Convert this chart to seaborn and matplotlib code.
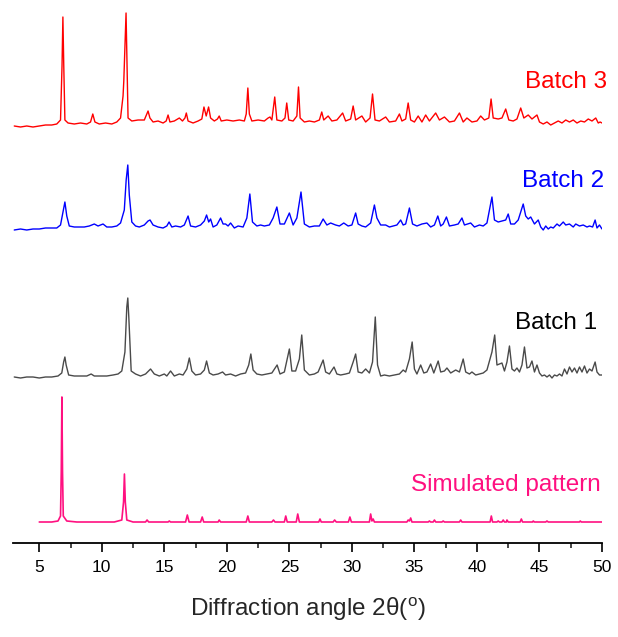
import matplotlib
matplotlib.use("Agg")
import matplotlib.pyplot as plt
from matplotlib.ticker import MultipleLocator
import pandas as pd
import seaborn as sns


# Powder XRD traces. Intensities are arbitrary units
# measured from each trace's own starting baseline.

batch3_theta = [3.0, 3.5, 4.0, 4.5, 5.0, 5.5, 6.0, 6.4, 6.7, 6.82, 6.89, 6.96, 7.05, 7.3, 7.8,
                8.3, 8.8, 9.1, 9.28, 9.45, 9.8, 10.3, 10.8, 11.2, 11.5, 11.7, 11.76, 11.85, 11.94,
                12.02, 12.1, 12.4, 12.9, 13.4, 13.6, 13.7, 13.85, 14.1, 14.5, 14.9, 15.15, 15.3,
                15.45, 15.8, 16.2, 16.45, 16.65, 16.76, 16.9, 17.3, 17.7, 18.0, 18.17, 18.35,
                18.54, 18.7, 19.0, 19.25, 19.39, 19.55, 20.0, 20.5, 21.0, 21.4, 21.55, 21.68,
                21.8, 22.0, 22.5, 23.0, 23.3, 23.45, 23.6, 23.83, 24.0, 24.4, 24.65, 24.79, 24.95,
                25.3, 25.6, 25.73, 25.86, 26.2, 26.6, 27.0, 27.4, 27.59, 27.75, 28.1, 28.4, 28.8,
                29.26, 29.5, 29.9, 30.1, 30.3, 30.8, 31.1, 31.45, 31.65, 31.85, 32.2, 32.7, 33.0,
                33.5, 33.8, 34.0, 34.3, 34.5, 34.7, 35.0, 35.3, 35.6, 35.9, 36.2, 36.7, 37.0,
                37.4, 37.8, 38.2, 38.6, 38.9, 39.2, 39.6, 40.0, 40.3, 40.6, 40.95, 41.13, 41.3,
                41.7, 42.0, 42.3, 42.55, 42.9, 43.2, 43.5, 43.75, 44.1, 44.4, 44.8, 45.0, 45.3,
                45.6, 45.9, 46.2, 46.5, 46.8, 47.1, 47.4, 47.7, 48.0, 48.3, 48.6, 48.9, 49.2,
                49.5, 49.7, 49.85, 50.0]
batch3_int = [0, -1, 0, -1, 0, 1, 1, 2, 6, 60, 109, 60, 6, 3, 2,
              3, 2, 4, 12, 4, 2, 3, 2, 4, 8, 30, 45, 80, 113,
              60, 8, 5, 6, 6, 12, 15, 8, 4, 5, 3, 5, 11,
              4, 5, 8, 5, 8, 13, 5, 3, 5, 7, 19, 10,
              19, 8, 5, 7, 10, 5, 6, 5, 6, 5, 12, 38,
              12, 5, 6, 5, 8, 9, 6, 29, 6, 5, 8, 23, 6,
              5, 10, 39, 8, 4, 5, 4, 6, 14, 6, 10, 5, 6,
              13, 5, 7, 20, 6, 10, 4, 8, 32, 6, 5, 9, 4,
              5, 12, 5, 7, 23, 6, 4, 10, 4, 11, 5, 13, 6,
              9, 4, 5, 13, 4, 8, 4, 5, 10, 6, 8, 27, 8,
              7, 8, 17, 6, 5, 7, 18, 8, 11, 7, 11, 4, 2,
              4, 1, 3, 5, 3, 6, 4, 6, 3, 5, 4, 7, 5,
              8, 3, 4, 3]

batch2_theta = [3.0, 3.5, 4.0, 4.5, 5.0, 5.5, 6.0, 6.4, 6.7, 6.9, 7.05, 7.2, 7.4, 7.8, 8.2,
                8.6, 9.0, 9.4, 9.7, 10.1, 10.4, 10.8, 11.2, 11.5, 11.8, 11.95, 12.08, 12.2, 12.4,
                12.7, 13.0, 13.4, 13.7, 13.86, 14.1, 14.5, 14.9, 15.2, 15.38, 15.6, 15.9, 16.3,
                16.6, 16.9, 17.1, 17.5, 17.9, 18.2, 18.38, 18.55, 18.7, 18.9, 19.2, 19.5, 19.7,
                19.9, 20.1, 20.3, 20.6, 20.9, 21.3, 21.6, 21.84, 22.05, 22.4, 22.7, 23.0, 23.4,
                23.7, 24.0, 24.25, 24.6, 25.0, 25.3, 25.6, 25.93, 26.2, 26.6, 27.0, 27.4, 27.7,
                28.0, 28.3, 28.7, 29.0, 29.35, 29.7, 30.0, 30.3, 30.5, 30.8, 31.1, 31.5, 31.8,
                32.0, 32.3, 32.7, 33.0, 33.3, 33.6, 33.9, 34.1, 34.3, 34.6, 34.85, 35.2, 35.6,
                36.0, 36.3, 36.6, 36.87, 37.1, 37.3, 37.56, 37.8, 38.2, 38.5, 38.8, 39.0, 39.5,
                39.8, 40.2, 40.5, 40.8, 41.0, 41.2, 41.4, 41.7, 42.0, 42.3, 42.5, 42.7, 43.0,
                43.3, 43.7, 43.9, 44.1, 44.3, 44.6, 44.9, 45.1, 45.3, 45.5, 45.7, 45.9, 46.1,
                46.4, 46.6, 46.9, 47.1, 47.4, 47.7, 47.9, 48.2, 48.5, 48.8, 49.0, 49.25, 49.45,
                49.6, 49.8, 50.0]
batch2_int = [0, 1, 0, 1, 1, 2, 2, 2, 5, 18, 28, 14, 4, 3, 3,
              3, 4, 6, 4, 6, 3, 3, 4, 7, 20, 50, 65, 35, 8,
              4, 3, 5, 9, 10, 5, 3, 2, 4, 8, 3, 4, 3,
              5, 14, 4, 3, 5, 9, 15, 8, 11, 3, 5, 12, 6,
              6, 4, 7, 2, 4, 3, 12, 36, 8, 4, 5, 4, 5,
              12, 23, 6, 6, 17, 5, 12, 38, 6, 3, 4, 4, 11,
              5, 7, 5, 4, 7, 4, 5, 17, 6, 4, 3, 7, 25,
              12, 5, 5, 3, 4, 5, 10, 5, 6, 22, 6, 4, 6,
              7, 3, 5, 14, 4, 6, 13, 4, 5, 6, 12, 5, 7,
              3, 5, 4, 7, 20, 33, 10, 8, 9, 10, 16, 6, 6,
              10, 26, 14, 11, 13, 6, 10, 3, 0, 4, 1, 3, 2,
              6, 4, 8, 5, 6, 3, 6, 4, 5, 3, 4, 3, 10,
              2, 5, 1]

batch1_theta = [3.0, 3.5, 4.0, 4.5, 5.0, 5.5, 6.0, 6.5, 6.8, 6.95, 7.05, 7.15, 7.35, 7.8, 8.3,
                8.8, 9.15, 9.4, 9.9, 10.4, 10.9, 11.3, 11.6, 11.85, 12.0, 12.08, 12.16, 12.35,
                12.7, 13.1, 13.5, 13.9, 14.2, 14.6, 15.0, 15.2, 15.5, 15.8, 16.2, 16.5, 16.8,
                17.0, 17.2, 17.5, 17.9, 18.2, 18.38, 18.6, 18.9, 19.3, 19.66, 19.9, 20.3, 20.7,
                21.1, 21.5, 21.75, 21.92, 22.1, 22.4, 22.8, 23.2, 23.6, 24.02, 24.25, 24.6, 25.0,
                25.2, 25.5, 25.8, 25.99, 26.2, 26.6, 27.0, 27.3, 27.7, 27.9, 28.2, 28.57, 28.8,
                29.1, 29.5, 29.8, 30.1, 30.3, 30.5, 30.8, 31.1, 31.4, 31.65, 31.87, 32.05, 32.3,
                32.6, 33.0, 33.4, 33.8, 34.1, 34.3, 34.6, 34.82, 35.0, 35.2, 35.5, 35.75, 36.0,
                36.3, 36.55, 36.9, 37.1, 37.4, 37.6, 37.9, 38.3, 38.6, 38.9, 39.1, 39.4, 39.6,
                39.9, 40.2, 40.5, 40.8, 41.2, 41.42, 41.6, 42.0, 42.2, 42.4, 42.6, 42.8, 43.0,
                43.2, 43.4, 43.6, 43.8, 44.0, 44.2, 44.4, 44.6, 44.8, 45.0, 45.2, 45.4, 45.6,
                45.8, 46.0, 46.2, 46.4, 46.6, 46.8, 47.0, 47.2, 47.4, 47.6, 47.8, 48.0, 48.2,
                48.4, 48.6, 48.8, 49.0, 49.2, 49.45, 49.6, 49.8, 50.0]
batch1_int = [0, -1, 0, 0, -1, 0, 0, 1, 4, 15, 20, 12, 2, 1, 1,
              1, 3, 1, 1, 1, 2, 3, 6, 25, 70, 79, 60, 6,
              3, 1, 3, 8, 3, 1, 3, 1, 6, 1, 3, 2, 8,
              19, 6, 2, 3, 7, 16, 4, 2, 3, 5, 2, 3, 1,
              3, 4, 12, 23, 7, 3, 2, 3, 4, 12, 3, 5, 28,
              6, 6, 18, 42, 7, 2, 3, 5, 17, 5, 3, 10, 3,
              2, 3, 4, 15, 23, 5, 4, 8, 4, 15, 60, 12, 1,
              2, 1, 2, 3, 7, 5, 18, 35, 8, 3, 12, 4, 5,
              13, 4, 16, 5, 6, 9, 4, 7, 5, 18, 5, 3, 5,
              2, 3, 4, 7, 25, 42, 12, 14, 6, 15, 31, 8, 6,
              9, 5, 12, 30, 9, 10, 16, 5, 12, 4, 1, 2, 0,
              2, -1, 2, 1, 3, 1, 8, 3, 10, 5, 9, 4, 10,
              5, 11, 4, 8, 6, 15, 5, 2, 2]

sim_theta = [5.0, 6.0, 6.5, 6.7, 6.76, 6.81, 6.86, 6.92, 7.2, 8.0, 11.0, 11.6, 11.74, 11.81,
             11.88, 12.0, 12.5, 13.5, 13.62, 13.75, 15.3, 15.4, 15.5, 16.7, 16.84, 16.98, 17.9,
             18.03, 18.15, 19.3, 19.39, 19.5, 21.55, 21.68, 21.8, 23.6, 23.73, 23.85, 24.6,
             24.71, 24.83, 25.55, 25.67, 25.8, 27.35, 27.45, 27.55, 28.5, 28.62, 28.75, 29.72,
             29.84, 29.96, 31.4, 31.5, 31.6, 31.7, 31.8, 34.4, 34.5, 34.6, 34.7, 34.8, 36.1,
             36.2, 36.3, 36.5, 36.6, 36.7, 37.2, 37.3, 37.4, 38.6, 38.7, 38.8, 41.05, 41.15,
             41.25, 41.6, 41.7, 41.8, 42.0, 42.1, 42.2, 42.35, 42.4, 42.5, 43.45, 43.55, 43.65,
             44.45, 44.5, 44.6, 45.5, 45.6, 45.7, 48.2, 48.26, 48.35, 50.0]
sim_int = [0, 0, 1, 6, 50, 125, 50, 6, 1, 0, 0, 2, 20, 48,
           20, 2, 0, 0, 2, 0, 0, 1, 0, 0, 7, 0, 0,
           5, 0, 0, 2, 0, 0, 6, 0, 0, 2, 0, 0,
           6, 0, 0, 8, 0, 0, 3, 0, 0, 2, 0, 0,
           5, 0, 0, 8, 1, 3, 0, 0, 2, 1, 4, 0, 0,
           1, 0, 0, 2, 0, 0, 1, 0, 0, 2, 0, 0, 6,
           0, 0, 1, 0, 0, 2, 0, 0, 2, 0, 0, 3, 0,
           0, 1, 0, 0, 1, 0, 0, 1, 0, 0]

trace_names = ["Batch 3", "Batch 2", "Batch 1", "Simulated pattern"]
trace_offsets = [417, 313, 166, 21]
line_colors = ["#ff0000", "#0000ff", "#4a4a4a", "#ff1080"]
label_colors = ["#ff0000", "#0000ff", "#000000", "#ff1080"]

# text placement (x, baseline y) in data units
label_pos = [(50.4, 455), (50.2, 356), (49.6, 214), (49.9, 52)]

thetas = [batch3_theta, batch2_theta, batch1_theta, sim_theta]
intensities = [batch3_int, batch2_int, batch1_int, sim_int]

frames = []
for name, off, th, it in zip(trace_names, trace_offsets, thetas, intensities):
    frames.append(pd.DataFrame({"theta": th,
                                "intensity": [v + off for v in it],
                                "trace": name}))
df = pd.concat(frames, ignore_index=True)

sns.set_theme(style="white")
plt.rcParams["font.family"] = ["Liberation Sans", "DejaVu Sans"]
plt.rcParams["mathtext.fontset"] = "custom"
plt.rcParams["mathtext.rm"] = "Liberation Sans"

fig = plt.figure(figsize=(6.18, 6.37), dpi=100)
ax = fig.add_axes([13 / 618, 94 / 637, 589 / 618, 538 / 637])

for name, lc, lw in zip(trace_names, line_colors, [1.0, 1.0, 1.0, 1.2]):
    sns.lineplot(data=df[df["trace"] == name], x="theta", y="intensity",
                 sort=False, estimator=None, color=lc, linewidth=lw, ax=ax)

for name, tc, (tx, ty) in zip(trace_names, label_colors, label_pos):
    ax.text(tx, ty, name, color=tc, ha="right", va="baseline", fontsize=17.5)

ax.set_xlim(2.9, 50)
ax.set_ylim(0, 538)
ax.set_yticks([])
ax.set_ylabel("")
ax.xaxis.set_major_locator(MultipleLocator(5))
ax.xaxis.set_minor_locator(MultipleLocator(2.5))
ax.tick_params(axis="x", which="major", direction="out", length=6.5, width=1.2,
               labelsize=12.5, pad=6, bottom=True, colors="black")
ax.tick_params(axis="x", which="minor", direction="out", length=3.5, width=1.2, bottom=True)
ax.set_xlabel(r"Diffraction angle 2θ($^\mathrm{o}$)", fontsize=17.5, labelpad=14)

for side in ["left", "top", "right"]:
    ax.spines[side].set_visible(False)
ax.spines["bottom"].set_linewidth(1.3)
ax.spines["bottom"].set_color("black")
ax.set_facecolor("none")

fig.savefig("out.png", dpi=100)
